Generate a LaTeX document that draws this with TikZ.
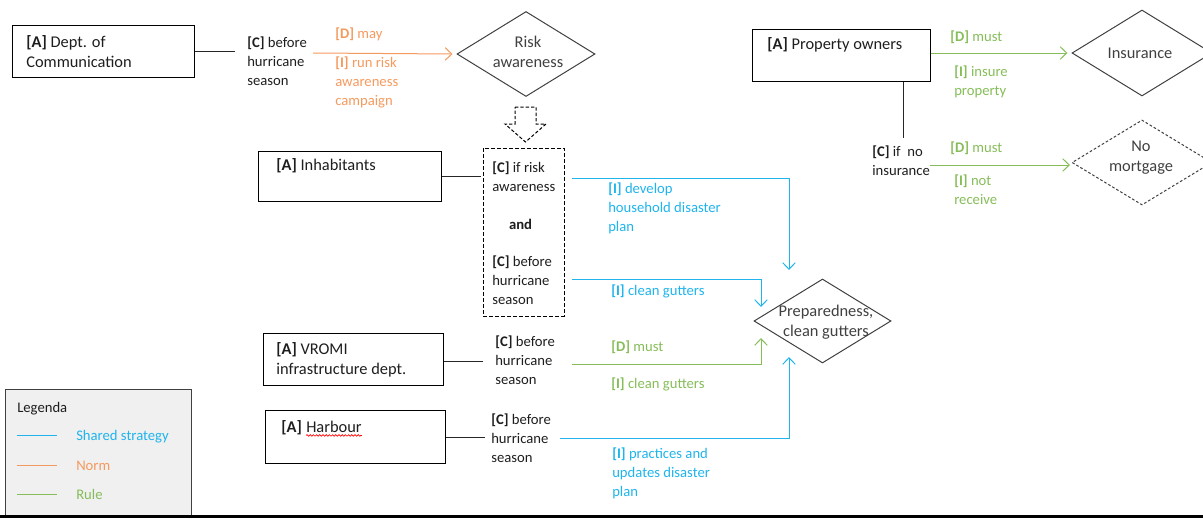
\documentclass[tikz,border=0pt]{standalone}
\usepackage{fontspec}
\setmainfont{Carlito}
\usetikzlibrary{arrows.meta,fit,shapes.geometric,decorations.pathmorphing}
\definecolor{cblue}{HTML}{1FB4EC}
\definecolor{corange}{HTML}{F59A5E}
\definecolor{cgreen}{HTML}{86BD5A}
\definecolor{ctext}{HTML}{1E1E1E}
\definecolor{cdia}{HTML}{404040}
\definecolor{legbg}{HTML}{F0F0F0}
\newcommand\fsz{\fontsize{11}{13.9}\selectfont}
\newcommand\fbig{\fontsize{12.3}{14.8}\selectfont}
\tikzset{
  abox/.style={draw=black, line width=0.75pt, inner sep=0pt, rectangle},
  dbox/.style={draw=black, line width=0.75pt, inner sep=0pt, rectangle, dash pattern=on 3pt off 1.5pt},
  dia/.style={diamond, draw=cdia, line width=0.75pt, inner sep=0pt, minimum width=#1},
  txt/.style={anchor=base west, align=left, inner sep=0pt, font=\fsz, text=ctext},
  btxt/.style={anchor=base west, align=left, inner sep=0pt, font=\fbig, text=ctext},
  ctr/.style={anchor=base, align=center, inner sep=0pt, font=\fbig, text=cdia},
  ln/.style={draw=black!85, line width=0.75pt},
  arr/.style={line width=0.75pt, -{Straight Barb[length=5pt,width=9.5pt,line width=0.75pt]}},
}
\begin{document}
\begin{tikzpicture}[x=0.75pt,y=-0.75pt]
\useasboundingbox (0,0) rectangle (1203,518);
% ---------- boxes ----------
\node[abox, fit={(12,25)(194,77)}] (dept) {};
\node[abox, fit={(258,151)(441,201)}] (inh) {};
\node[abox, fit={(263,333)(443,385)}] (vromi) {};
\node[abox, fit={(265,410)(445,463)}] (harb) {};
\node[abox, fit={(752,29)(930,81)}] (prop) {};
\node[dbox, fit={(483,148)(564,316)}] (cond) {};
% ---------- diamonds ----------
\node[dia=103.5pt, minimum height=63.75pt] (risk) at (526,54) {};
\node[dia=102.75pt, minimum height=63pt] (prep) at (822.5,321) {};
\node[dia=105pt, minimum height=64.5pt] (ins) at (1142,53) {};
\node[dia=105pt, minimum height=63.75pt, dash pattern=on 2pt off 1.5pt] (mort) at (1142,162.5) {};
% ---------- texts (anchored at the baseline of the last line) ----------
\node[btxt] (tdept) at (26,67) {\textbf{[A]} Dept. of\\Communication};
\node[txt] (tc1) at (247,85) {\textbf{[C]} before\\hurricane\\season};
\node[txt, text=corange] (td1) at (335,38) {\textbf{[D]} may};
\node[txt, text=corange] (ti1) at (335,105) {\textbf{[I]} run risk\\awareness\\campaign};
\node[ctr] (trisk) at (528,67.5) {Risk\\awareness};
\node[btxt] (tinh) at (276,170.5) {\textbf{[A]} Inhabitants};
\node[txt] (tc2) at (492,191.5) {\textbf{[C]} if risk\\awareness};
\node[txt, anchor=base] (tand) at (520.5,229) {\textbf{and}};
\node[txt] (tc3) at (492,304) {\textbf{[C]} before\\hurricane\\season};
\node[txt, text=cblue] (ti2) at (608,231) {\textbf{[I]} develop\\household disaster\\plan};
\node[txt, text=cblue] (ti3) at (611,295) {\textbf{[I]} clean gutters};
\node[ctr] (tprep) at (826,336.5) {Preparedness,\\clean gutters};
\node[btxt] (tvromi) at (276,374) {\textbf{[A]} VROMI\\infrastructure dept.};
\node[txt] (tc4) at (495,384) {\textbf{[C]} before\\hurricane\\season};
\node[txt, text=cgreen] (td4) at (611,351) {\textbf{[D]} must};
\node[txt, text=cgreen] (ti4) at (611,388) {\textbf{[I]} clean gutters};
\node[btxt] (tharbA) at (281,432.5) {\textbf{[A]}};
\node[btxt, anchor=base west] (tharbW) at ([xshift=2.9pt]tharbA.base east) {Harbour};
\draw[red, line width=0.5pt, decorate, decoration={snake, amplitude=0.6pt, segment length=2.4pt}]
  ([yshift=-2.2pt]tharbW.base west) -- ([yshift=-2.2pt]tharbW.base east);
\node[txt] (tc5) at (491,462) {\textbf{[C]} before\\hurricane\\season};
\node[txt, text=cblue] (ti5) at (612,496) {\textbf{[I]} practices and\\updates disaster\\plan};
\node[btxt] (tprop) at (767,49.5) {\textbf{[A]} Property owners};
\node[txt, text=cgreen] (td6) at (950,41) {\textbf{[D]} must};
\node[txt, text=cgreen] (ti6) at (954,95.5) {\textbf{[I]} insure\\property};
\node[ctr] (tins) at (1140,58.5) {Insurance};
\node[txt] (tc7) at (872,175.5) {\textbf{[C]} if~ no\\insurance};
\node[txt, text=cgreen] (td7) at (950,152) {\textbf{[D]} must};
\node[txt, text=cgreen] (ti7) at (954,204.5) {\textbf{[I]} not\\receive};
\node[ctr] (tmort) at (1141,171.5) {No\\mortgage};
% ---------- dashed block arrow ----------
\draw[line width=0.75pt, dash pattern=on 2.5pt off 1.5pt]
  (515,107) -- (536,107) -- (536,124) -- (546,124) -- (525.5,142) -- (505,124) -- (515,124) -- cycle;
% ---------- connectors ----------
\coordinate (c1) at (235,51);
\draw[ln] (dept.east) -- (c1);
\coordinate (o1) at (313,53);
\draw[arr, corange] (o1) -- ([xshift=-3pt]risk.west);
\draw[ln] (inh.east) -- ([xshift=-1.5pt]cond.west |- inh.east);
\coordinate (b1s) at (572,178);
\coordinate (b1e) at (789,270);
\draw[arr, cblue] (b1s) -| (b1e);
\coordinate (b2s) at (572,279);
\coordinate (b2e) at (761,307);
\draw[arr, cblue] (b2s) -| (b2e);
\coordinate (c4) at (483,361);
\draw[ln] (vromi.east |- c4) -- (c4);
\coordinate (g1s) at (572,364);
\coordinate (g1e) at (761,338);
\draw[arr, cgreen] (g1s) -| (g1e);
\coordinate (c5) at (485,437);
\draw[ln] (harb.east |- c5) -- (c5);
\coordinate (b3s) at (560,438);
\coordinate (b3e) at (789,357);
\draw[arr, cblue] (b3s) -| (b3e);
\draw[arr, cgreen] (prop.east |- ins.west) -- ([xshift=-3pt]ins.west);
\coordinate (pv) at (903,138);
\draw[ln] (prop.south -| pv) -- (pv);
\coordinate (g2s) at (930,165);
\coordinate (g2e) at (1070,165);
\draw[arr, cgreen] (g2s) -- (g2e);
% ---------- legend ----------
\node[fill=legbg, draw=black!75, line width=0.75pt, inner sep=0pt, fit={(5,389)(191,516)}] (leg) {};
\node[txt] (tleg) at (17,412) {Legenda};
\draw[cblue, line width=0.75pt] (17,435) -- (57,435);
\node[txt, text=cblue] (tl1) at (76,440) {Shared strategy};
\draw[corange, line width=0.75pt] (17,465) -- (57,465);
\node[txt, text=corange] (tl2) at (76,470) {Norm};
\draw[cgreen, line width=0.75pt] (17,494) -- (57,494);
\node[txt, text=cgreen] (tl3) at (76,499) {Rule};
% ---------- bottom rule ----------
\draw[black, line width=2.4pt] (0,516.5) -- (1203,516.5);
\end{tikzpicture}
\end{document}
